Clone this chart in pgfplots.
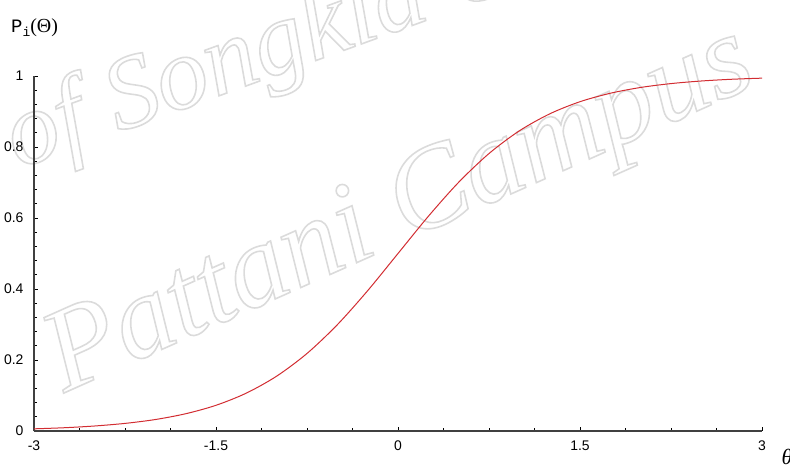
\documentclass[border=0pt]{standalone}
\usepackage{pgfplots}
\pgfplotsset{compat=1.18}
\usepackage{fontspec}
\setmainfont{Liberation Sans}
\newfontfamily\monofont{Liberation Mono}
\newfontfamily\seriffont{Liberation Serif}
\definecolor{curvered}{RGB}{210,45,50}
\definecolor{wm}{RGB}{222,222,222}
\newcommand\outlined[1]{\special{pdf:literal direct 1 Tr 1.6 w 0.86 0.86 0.86 RG}#1\special{pdf:literal direct 0 Tr}}
\begin{document}
\begin{tikzpicture}[x=1bp,y=1bp]
\useasboundingbox (-34,-35) rectangle (756,431);
% watermark
\node[anchor=base west, rotate=20, text=wm, inner sep=0pt] at (-16,262)
  {\fontsize{104}{106}\selectfont\seriffont\itshape\outlined{of Songkla University}};
\node[anchor=base west, rotate=24, text=wm, inner sep=0pt] at (30,38)
  {\fontsize{118}{120}\selectfont\seriffont\itshape\outlined{Pattani Campus}};
\begin{axis}[
  at={(0,0)}, anchor=south west, scale only axis,
  width=728bp, height=355bp,
  xmin=-3, xmax=3, ymin=0, ymax=1,
  axis lines=left,
  axis line style={line width=1.3bp, -, black!75},
  xtick={-3,-1.5,0,1.5,3}, xticklabels={-3,-1.5,0,1.5,3},
  ytick={0,0.2,0.4,0.6,0.8,1}, yticklabels={0,0.2,0.4,0.6,0.8,1},
  minor x tick num=3, minor y tick num=4,
  tick align=inside, major tick length=4bp, minor tick length=3bp,
  tick style={black, line width=0.9bp},
  ticklabel style={font=\fontsize{14}{15}\selectfont},
  xticklabel style={yshift=-6bp},
  yticklabel style={xshift=-7bp},
  clip=false,
]
\addplot[curvered, line width=1bp, smooth] coordinates {
(-3.00,0.0061) (-2.75,0.0092) (-2.50,0.0141) (-2.25,0.0214) (-2.00,0.0323)
(-1.75,0.0486) (-1.50,0.0724) (-1.25,0.1067) (-1.00,0.1545) (-0.75,0.2184)
(-0.50,0.2994) (-0.25,0.3953) (0.00,0.5000) (0.25,0.6047) (0.50,0.7006)
(0.75,0.7816) (1.00,0.8455) (1.25,0.8933) (1.50,0.9276) (1.75,0.9514)
(2.00,0.9677) (2.25,0.9786) (2.50,0.9859) (2.75,0.9908) (3.00,0.9939)
};
\end{axis}
\node[anchor=west, inner sep=0pt] at (-23,403)
  {\fontsize{19}{20}\selectfont{\monofont P}\raisebox{-4bp}{\fontsize{13}{14}\selectfont\monofont i}{\seriffont\fontsize{20}{20}\selectfont(Θ)}};
\node[inner sep=0pt] at (753,-26) {\fontsize{22}{22}\selectfont\seriffont\itshape θ};
\end{tikzpicture}
\end{document}
